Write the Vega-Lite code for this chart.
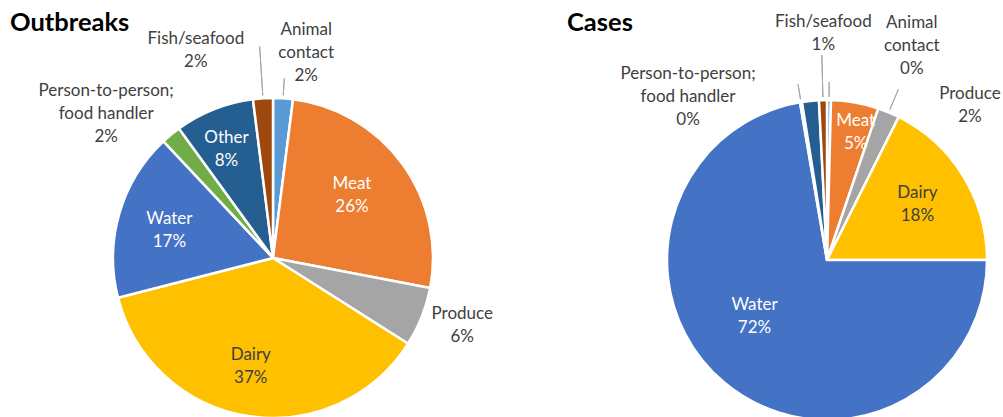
{
  "$schema": "https://vega.github.io/schema/vega-lite/v6.json",
  "padding": 0,
  "spacing": 0,
  "bounds": "flush",
  "background": "white",
  "config": {"view": {"stroke": null}, "font": "Lato", "text": {"fontSize": 17, "lineHeight": 23, "color": "#404040"}},
  "resolve": {"scale": {"theta": "independent"}},
  "datasets": {
    "outbreaks": [
      {"idx": 1, "cat": "Animal contact", "value": 2, "label": ["Animal", "contact", "2%"]},
      {"idx": 2, "cat": "Meat", "value": 26, "label": ["Meat", "26%"]},
      {"idx": 3, "cat": "Produce", "value": 6, "label": ["Produce", "6%"]},
      {"idx": 4, "cat": "Dairy", "value": 37, "label": ["Dairy", "37%"]},
      {"idx": 5, "cat": "Water", "value": 17, "label": ["Water", "17%"]},
      {"idx": 6, "cat": "Person-to-person; food handler", "value": 2, "label": ["Person-to-person;", "food handler", "2%"]},
      {"idx": 7, "cat": "Other", "value": 8, "label": ["Other", "8%"]},
      {"idx": 8, "cat": "Fish/seafood", "value": 2, "label": ["Fish/seafood", "2%"]}
    ],
    "cases": [
      {"idx": 1, "cat": "Animal contact", "value": 0.4, "label": ["Animal", "contact", "0%"]},
      {"idx": 2, "cat": "Meat", "value": 4.8, "label": ["Meat", "5%"]},
      {"idx": 3, "cat": "Produce", "value": 2.2, "label": ["Produce", "2%"]},
      {"idx": 4, "cat": "Dairy", "value": 17.6, "label": ["Dairy", "18%"]},
      {"idx": 5, "cat": "Water", "value": 72.3, "label": ["Water", "72%"]},
      {"idx": 6, "cat": "Person-to-person; food handler", "value": 0.2, "label": ["Person-to-person;", "food handler", "0%"]},
      {"idx": 7, "cat": "Other", "value": 1.7, "label": [""]},
      {"idx": 8, "cat": "Fish/seafood", "value": 0.8, "label": ["Fish/seafood", "1%"]}
    ]
  },
  "hconcat": [
    {
      "title": {"text": "Outbreaks", "anchor": "start", "dx": 10, "dy": 26, "offset": -30, "baseline": "alphabetic", "fontSize": 25.5, "font": "Lato", "fontWeight": "bold", "color": "#000000"},
      "width": 546,
      "height": 516,
      "data": {"name": "outbreaks"},
      "encoding": {
        "theta": {"field": "value", "type": "quantitative", "stack": true, "scale": {"domain": [0, 100]}},
        "order": {"field": "idx", "type": "quantitative"}
      },
      "layer": [
        {
          "mark": {"type": "arc", "outerRadius": 160, "stroke": "#ffffff", "strokeWidth": 2.5},
          "encoding": {
            "color": {"field": "cat", "type": "nominal", "legend": null,
              "scale": {"domain": ["Animal contact", "Meat", "Produce", "Dairy", "Water", "Person-to-person; food handler", "Other", "Fish/seafood"],
                        "range": ["#5B9BD5", "#ED7D31", "#A5A5A5", "#FFC000", "#4472C4", "#70AD47", "#255E91", "#9E480E"]}}
          }
        },
        {
          "mark": {"type": "arc", "outerRadius": 212, "innerRadius": 163, "padAngle": 1.2, "filled": false, "stroke": "#a6a6a6", "strokeWidth": 1},
          "encoding": {"opacity": {"condition": {"test": "datum.cat === 'Fish/seafood'", "value": 1}, "value": 0}}
        },
        {
          "mark": {"type": "arc", "outerRadius": 180, "innerRadius": 163, "padAngle": 1.2, "filled": false, "stroke": "#a6a6a6", "strokeWidth": 1},
          "encoding": {"opacity": {"condition": {"test": "datum.cat === 'Animal contact'", "value": 1}, "value": 0}}
        },
        {
          "mark": {"type": "text", "radius": 110, "dx": -10, "dy": -9, "color": "#ffffff"},
          "encoding": {"text": {"condition": {"test": "datum.cat === 'Meat'", "field": "label"}, "value": ""}}
        },
        {
          "mark": {"type": "text", "radius": 110, "dx": -6, "dy": -18, "color": "#ffffff"},
          "encoding": {"text": {"condition": {"test": "datum.cat === 'Other'", "field": "label"}, "value": ""}}
        },
        {
          "mark": {"type": "text", "radius": 110, "dx": 2, "dy": -8, "color": "#ffffff"},
          "encoding": {"text": {"condition": {"test": "datum.cat === 'Water'", "field": "label"}, "value": ""}}
        },
        {
          "mark": {"type": "text", "radius": 110, "dx": -5, "dy": -12, "color": "#404040"},
          "encoding": {"text": {"condition": {"test": "datum.cat === 'Dairy'", "field": "label"}, "value": ""}}
        },
        {
          "mark": {"type": "text", "radius": 210, "dx": 20, "dy": -18},
          "encoding": {"text": {"condition": {"test": "datum.cat === 'Animal contact'", "field": "label"}, "value": ""}}
        },
        {
          "mark": {"type": "text", "radius": 210, "dx": -64, "dy": -9},
          "encoding": {"text": {"condition": {"test": "datum.cat === 'Fish/seafood'", "field": "label"}, "value": ""}}
        },
        {
          "mark": {"type": "text", "radius": 210, "dx": -33, "dy": -5},
          "encoding": {"text": {"condition": {"test": "datum.cat === 'Person-to-person; food handler'", "field": "label"}, "value": ""}}
        },
        {
          "mark": {"type": "text", "radius": 210, "dx": -6, "dy": -21},
          "encoding": {"text": {"condition": {"test": "datum.cat === 'Produce'", "field": "label"}, "value": ""}}
        }
      ]
    },
    {
      "title": {"text": "Cases", "anchor": "start", "dx": 21, "dy": 26, "offset": -30, "baseline": "alphabetic", "fontSize": 25.5, "font": "Lato", "fontWeight": "bold", "color": "#000000"},
      "width": 562,
      "height": 520,
      "data": {"name": "cases"},
      "encoding": {
        "theta": {"field": "value", "type": "quantitative", "stack": true, "scale": {"domain": [0, 100]}},
        "order": {"field": "idx", "type": "quantitative"}
      },
      "layer": [
        {
          "mark": {"type": "arc", "outerRadius": 160, "stroke": "#ffffff", "strokeWidth": 2.5},
          "encoding": {
            "color": {"field": "cat", "type": "nominal", "legend": null,
              "scale": {"domain": ["Animal contact", "Meat", "Produce", "Dairy", "Water", "Person-to-person; food handler", "Other", "Fish/seafood"],
                        "range": ["#5B9BD5", "#ED7D31", "#A5A5A5", "#FFC000", "#4472C4", "#70AD47", "#255E91", "#9E480E"]}}
          }
        },
        {
          "mark": {"type": "arc", "outerRadius": 205, "innerRadius": 163, "padAngle": 1.2, "filled": false, "stroke": "#a6a6a6", "strokeWidth": 1},
          "encoding": {"opacity": {"condition": {"test": "datum.cat === 'Fish/seafood'", "value": 1}, "value": 0}}
        },
        {
          "mark": {"type": "arc", "outerRadius": 185, "innerRadius": 163, "padAngle": 1.2, "filled": false, "stroke": "#a6a6a6", "strokeWidth": 1},
          "encoding": {"opacity": {"condition": {"test": "datum.cat === 'Produce'", "value": 1}, "value": 0}}
        },
        {
          "mark": {"type": "arc", "outerRadius": 178, "innerRadius": 163, "padAngle": 1.2, "filled": false, "stroke": "#a6a6a6", "strokeWidth": 1},
          "encoding": {"opacity": {"condition": {"test": "datum.cat === 'Animal contact' || datum.cat === 'Person-to-person; food handler'", "value": 1}, "value": 0}}
        },
        {
          "mark": {"type": "text", "radius": 130, "dx": 6, "dy": -11, "color": "#ffffff"},
          "encoding": {"text": {"condition": {"test": "datum.cat === 'Meat'", "field": "label"}, "value": ""}}
        },
        {
          "mark": {"type": "text", "radius": 105, "dx": 1, "dy": -12, "color": "#404040"},
          "encoding": {"text": {"condition": {"test": "datum.cat === 'Dairy'", "field": "label"}, "value": ""}}
        },
        {
          "mark": {"type": "text", "radius": 100, "dx": -8, "dy": -31, "color": "#ffffff"},
          "encoding": {"text": {"condition": {"test": "datum.cat === 'Water'", "field": "label"}, "value": ""}}
        },
        {
          "mark": {"type": "text", "radius": 226, "dx": 2, "dy": -12},
          "encoding": {"text": {"condition": {"test": "datum.cat === 'Fish/seafood'", "field": "label"}, "value": ""}}
        },
        {
          "mark": {"type": "text", "radius": 226, "dx": 82, "dy": -11},
          "encoding": {"text": {"condition": {"test": "datum.cat === 'Animal contact'", "field": "label"}, "value": ""}}
        },
        {
          "mark": {"type": "text", "radius": 215, "dx": 60, "dy": 32},
          "encoding": {"text": {"condition": {"test": "datum.cat === 'Produce'", "field": "label"}, "value": ""}}
        },
        {
          "mark": {"type": "text", "radius": 215, "dx": -104, "dy": 26},
          "encoding": {"text": {"condition": {"test": "datum.cat === 'Person-to-person; food handler'", "field": "label"}, "value": ""}}
        }
      ]
    }
  ]
}
